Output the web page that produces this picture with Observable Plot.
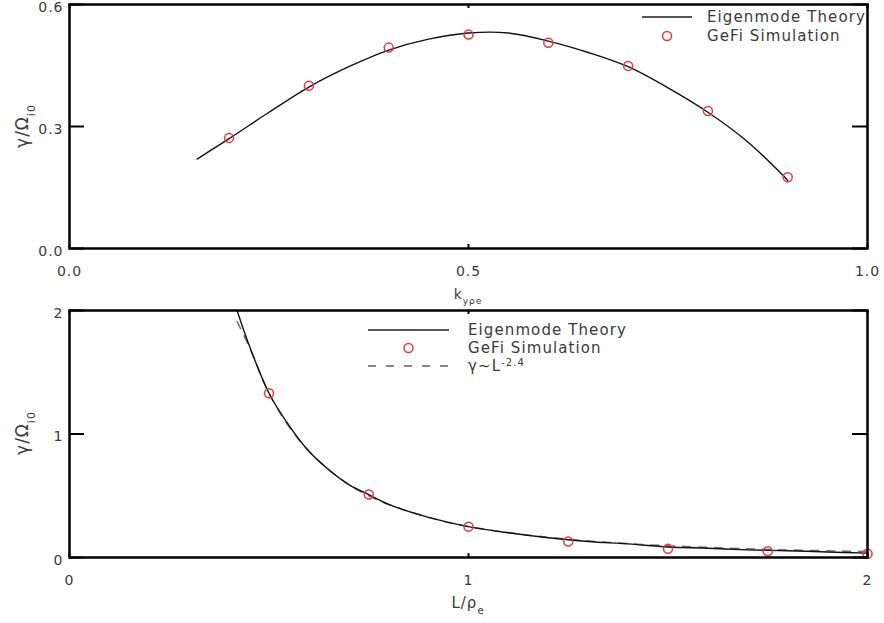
<!DOCTYPE html>
<html>
<head>
<meta charset="utf-8">
<script src="https://cdn.jsdelivr.net/npm/d3@7"></script>
<script src="https://cdn.jsdelivr.net/npm/@observablehq/plot@0.6"></script>
<style>
  body { margin: 0; background: #fff; }
  #chart svg { display: block; overflow: visible; }
</style>
</head>
<body>
<div id="chart"></div>
<script>
// Growth rate versus wavenumber: eigenmode theory curve and GeFi runs
const kTheory = [0.16, 0.20, 0.25, 0.30, 0.35, 0.40, 0.45, 0.50, 0.55, 0.60, 0.65, 0.70, 0.75, 0.80, 0.85, 0.90];
const gammaTheoryK = [0.22, 0.27, 0.335, 0.397, 0.447, 0.488, 0.515, 0.530, 0.530, 0.510, 0.482, 0.447, 0.395, 0.335, 0.262, 0.168];
const kSim = [0.2, 0.3, 0.4, 0.5, 0.6, 0.7, 0.8, 0.9];
const gammaSimK = [0.272, 0.400, 0.494, 0.526, 0.506, 0.449, 0.338, 0.175];

// Growth rate versus current sheet half-thickness
const LTheory = [0.42, 0.45, 0.50, 0.55, 0.60, 0.65, 0.70, 0.75, 0.80, 0.90, 1.00, 1.10, 1.20, 1.30, 1.40, 1.50, 1.60, 1.70, 1.80, 1.90, 2.00];
const gammaTheoryL = [2.0, 1.72, 1.33, 1.07, 0.86, 0.71, 0.59, 0.51, 0.43, 0.325, 0.25, 0.20, 0.16, 0.13, 0.11, 0.085, 0.075, 0.062, 0.055, 0.045, 0.035];
const LFit = [0.42, 0.45, 0.50, 0.55, 0.60, 0.65, 0.70, 0.75, 0.80, 0.90, 1.00, 1.20, 1.40, 1.60, 1.80, 2.00];
const gammaFitL = [1.91, 1.71, 1.33, 1.06, 0.86, 0.71, 0.59, 0.50, 0.43, 0.325, 0.25, 0.163, 0.112, 0.082, 0.061, 0.048];
const LSim = [0.5, 0.75, 1.0, 1.25, 1.5, 1.75, 2.0];
const gammaSimL = [1.33, 0.51, 0.25, 0.13, 0.07, 0.05, 0.03];

// Axis ticks
const kTicks = [0, 0.5, 1.0];
const gammaTicksTop = [0, 0.3, 0.6];
const LTicks = [0, 1, 2];
const gammaTicksBottom = [0, 1, 2];

const W = 884, ML = 69, MR = 17;
const FONT = "DejaVu Sans";
const INK = "#3a3a3a";
const RED = "#e8383d";

function panel({height, marginTop, marginBottom, xDomain, yDomain, xTicks, yTicks, xFmt, yFmt, marks}) {
  const pw = W - ML - MR, ph = height - marginTop - marginBottom;
  return Plot.plot({
    width: W, height, marginLeft: ML, marginRight: MR, marginTop, marginBottom,
    style: {fontFamily: FONT, fontSize: "14px", color: INK, background: "#fff", letterSpacing: "1px"},
    x: {domain: xDomain, ticks: xTicks, label: null},
    y: {domain: yDomain, ticks: yTicks, label: null},
    marks: [
      Plot.axisX(xTicks, {anchor: "bottom", tickSize: 0, tickPadding: 18, tickFormat: xFmt, label: null}),
      Plot.axisY(yTicks, {anchor: "left", tickSize: 0, tickPadding: 6, dy: 3, tickFormat: yFmt, label: null}),
      ...marks,
      // inward ticks on all four sides
      Plot.tickY(yTicks, {y: d => d, stroke: "#000", strokeWidth: 2, insetRight: pw - 15}),
      Plot.tickY(yTicks, {y: d => d, stroke: "#000", strokeWidth: 2, insetLeft: pw - 15}),
      Plot.tickX(xTicks, {x: d => d, stroke: "#000", strokeWidth: 2, insetTop: ph - 4}),
      Plot.tickX(xTicks, {x: d => d, stroke: "#000", strokeWidth: 2, insetBottom: ph - 4}),
      Plot.frame({stroke: "#000", strokeWidth: 2.5})
    ]
  });
}

function addLegend(svg, {x0, x1, xt, rows}) {
  const g = d3.select(svg).append("g")
    .attr("font-family", FONT).attr("font-size", 15).attr("fill", INK)
    .attr("text-anchor", "start")
    .style("letter-spacing", "1.1px");
  for (const r of rows) {
    if (r.type === "line") {
      g.append("line").attr("x1", x0).attr("x2", x1).attr("y1", r.y).attr("y2", r.y)
        .attr("stroke", r.stroke).attr("stroke-width", 1.8)
        .attr("stroke-dasharray", r.dash || null);
    } else {
      g.append("circle").attr("cx", (x0 + x1) / 2).attr("cy", r.y).attr("r", 4.5)
        .attr("fill", "none").attr("stroke", RED).attr("stroke-width", 1.5);
    }
    const t = g.append("text").attr("x", xt).attr("y", r.y).attr("dy", "0.35em");
    for (const [s, kind] of r.label) {
      const ts = t.append("tspan").text(s);
      if (kind === "sup") ts.attr("font-size", 10).attr("baseline-shift", "super");
    }
  }
}

function addLabel(svg, {x, y, rotate, size = 14, parts}) {
  const t = d3.select(svg).append("text")
    .attr("font-family", FONT).attr("font-size", size).attr("fill", INK)
    .attr("text-anchor", "middle").attr("dy", "0.35em")
    .attr("transform", `translate(${x},${y})${rotate ? " rotate(-90)" : ""}`);
  for (const [s, kind] of parts) {
    const ts = t.append("tspan").text(s);
    if (kind === "sub") ts.attr("font-size", Math.round(size * 0.65)).attr("baseline-shift", "sub");
  }
}

const kPanel = panel({
  height: 305, marginTop: 4, marginBottom: 57,
  xDomain: [0, 1], yDomain: [0, 0.6], xTicks: kTicks, yTicks: gammaTicksTop,
  xFmt: d3.format(".1f"), yFmt: d3.format(".1f"),
  marks: [
    Plot.line(kTheory.map((k, i) => ({k, g: gammaTheoryK[i]})), {x: "k", y: "g", stroke: "#111", strokeWidth: 1.4, curve: "catmull-rom"}),
    Plot.dot(kSim.map((k, i) => ({k, g: gammaSimK[i]})), {x: "k", y: "g", r: 4.5, stroke: RED, strokeWidth: 1.5, fill: "none"})
  ]
});
addLegend(kPanel, {x0: 642, x1: 692, xt: 707, rows: [
  {type: "line", y: 17, stroke: "#555", label: [["Eigenmode Theory"]]},
  {type: "dot", y: 36, label: [["GeFi Simulation"]]}
]});
addLabel(kPanel, {x: 22, y: 126, rotate: true, size: 17, parts: [["γ/Ω"], ["i0", "sub"]]});
addLabel(kPanel, {x: 468, y: 294, parts: [["k"], ["yρe", "sub"]]});

const LPanel = panel({
  height: 318, marginTop: 5, marginBottom: 66,
  xDomain: [0, 2], yDomain: [0, 2], xTicks: LTicks, yTicks: gammaTicksBottom,
  xFmt: d3.format("d"), yFmt: d3.format("d"),
  marks: [
    Plot.line(LFit.map((L, i) => ({L, g: gammaFitL[i]})), {x: "L", y: "g", stroke: "#777", strokeWidth: 1.6, strokeDasharray: "8,8", curve: "catmull-rom", clip: true}),
    Plot.line(LTheory.map((L, i) => ({L, g: gammaTheoryL[i]})), {x: "L", y: "g", stroke: "#111", strokeWidth: 1.4, curve: "catmull-rom", clip: true}),
    Plot.dot(LSim.map((L, i) => ({L, g: gammaSimL[i]})), {x: "L", y: "g", r: 4.5, stroke: RED, strokeWidth: 1.5, fill: "none"})
  ]
});
addLegend(LPanel, {x0: 368, x1: 449, xt: 468, rows: [
  {type: "line", y: 25, stroke: "#555", label: [["Eigenmode Theory"]]},
  {type: "dot", y: 43, label: [["GeFi Simulation"]]},
  {type: "line", y: 61, stroke: "#888", dash: "8,10", label: [["γ~L"], ["-2.4", "sup"]]}
]});
addLabel(LPanel, {x: 22, y: 128, rotate: true, size: 17, parts: [["γ/Ω"], ["i0", "sub"]]});
addLabel(LPanel, {x: 468, y: 298, size: 15, parts: [["L/ρ"], ["e", "sub"]]});

document.getElementById("chart").append(kPanel, LPanel);
</script>
</body>
</html>
